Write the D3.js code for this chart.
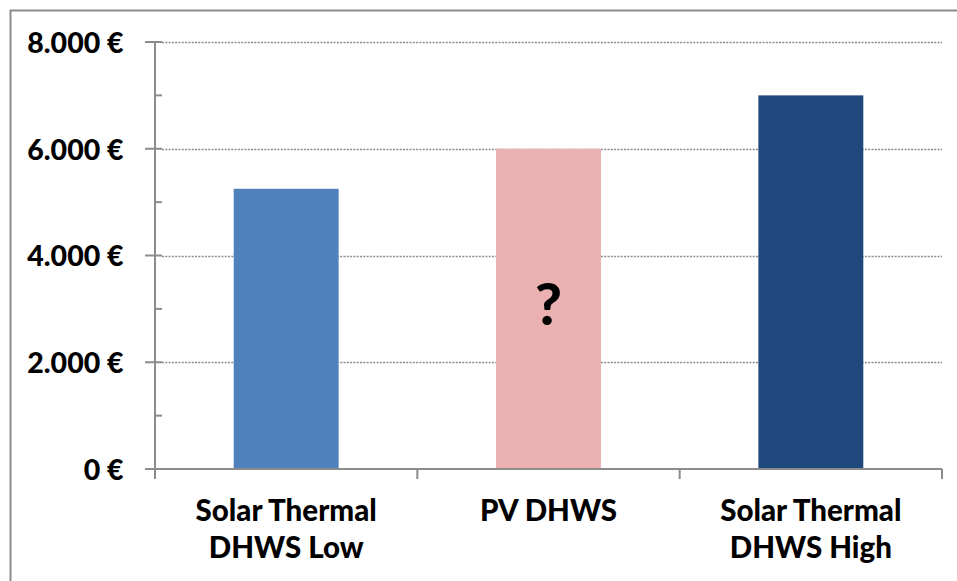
<!DOCTYPE html>
<html>
<head>
<meta charset="utf-8">
<script src="https://cdn.jsdelivr.net/npm/d3@7"></script>
<style>
    body { margin: 0; background: #fff; }
    text { font-family: Lato, "Open Sans", sans-serif; font-weight: 900; fill: #000; }
</style>
</head>
<body>
<div id="chart"></div>
<script>
var categories = [["Solar Thermal", "DHWS Low"], ["PV DHWS"], ["Solar Thermal", "DHWS High"]];
var values = [5250, 6000, 7000];
var colors = ["#4f81bd", "#ebb1b0", "#1f497d"];
var yTicks = [0, 2000, 4000, 6000, 8000];
var yMinorTicks = [1000, 3000, 5000, 7000];
var yTickLabels = ["0 €", "2.000 €", "4.000 €", "6.000 €", "8.000 €"];
var unknownMark = "?";

function init() {
    var w = 957;
    var h = 581;
    var left = 155, right = 942, top = 42, bottom = 469;

    var svg = d3.select("#chart")
        .append("svg")
        .attr("width", w)
        .attr("height", h);

    // outer frame
    svg.append("rect")
        .attr("x", 10.5)
        .attr("y", 10.5)
        .attr("width", w)
        .attr("height", h)
        .attr("fill", "none")
        .attr("stroke", "#8c8c8c")
        .attr("stroke-width", 2);

    var xScale = d3.scaleBand()
        .domain(d3.range(categories.length))
        .range([left, right])
        .padding(0);
    var yScale = d3.scaleLinear()
        .domain([0, 8000])
        .range([bottom, top]);

    // dotted gridlines
    svg.selectAll(".grid")
        .data(yTicks.slice(1))
        .enter()
        .append("line")
        .attr("x1", left + 7)
        .attr("x2", right)
        .attr("y1", function (d) { return Math.round(yScale(d)) + 0.5; })
        .attr("y2", function (d) { return Math.round(yScale(d)) + 0.5; })
        .style("stroke", "#8c8c8c")
        .style("stroke-width", 1.3)
        .style("stroke-dasharray", "2,1.3");

    var barW = xScale.bandwidth() * 0.4;
    svg.selectAll(".bar")
        .data(values)
        .enter()
        .append("rect")
        .attr("x", function (d, i) { return xScale(i) + (xScale.bandwidth() - barW) / 2; })
        .attr("y", function (d) { return yScale(d); })
        .attr("width", barW)
        .attr("height", function (d) { return yScale(0) - yScale(d); })
        .attr("fill", function (d, i) { return colors[i]; });

    // y axis
    var yAxis = d3.axisLeft(yScale)
        .tickValues(yTicks)
        .tickSize(0)
        .tickFormat(function (d, i) { return yTickLabels[i]; })
        .tickPadding(31);
    var gy = svg.append("g")
        .attr("transform", "translate(" + (left - 0.5) + ",0)")
        .call(yAxis);
    gy.select(".domain").attr("stroke", "#8c8c8c").attr("stroke-width", 2);
    gy.selectAll("text")
        .style("font-size", "28.5px")
        .attr("dy", "0.36em");

    svg.selectAll(".majorTick")
        .data(yTicks)
        .enter()
        .append("line")
        .attr("x1", left - 10)
        .attr("x2", left + 7)
        .attr("y1", function (d) { return yScale(d); })
        .attr("y2", function (d) { return yScale(d); })
        .style("stroke", "#8c8c8c")
        .style("stroke-width", 2);
    svg.selectAll(".minorTick")
        .data(yMinorTicks)
        .enter()
        .append("line")
        .attr("x1", left)
        .attr("x2", left + 7)
        .attr("y1", function (d) { return yScale(d); })
        .attr("y2", function (d) { return yScale(d); })
        .style("stroke", "#8c8c8c")
        .style("stroke-width", 2);

    // x axis
    svg.append("line")
        .attr("x1", left - 10)
        .attr("x2", right)
        .attr("y1", bottom)
        .attr("y2", bottom)
        .style("stroke", "#8c8c8c")
        .style("stroke-width", 2);
    var edges = d3.range(categories.length).map(function (i) { return xScale(i); }).concat([right]);
    svg.selectAll(".xTick")
        .data(edges)
        .enter()
        .append("line")
        .attr("x1", function (d) { return d; })
        .attr("x2", function (d) { return d; })
        .attr("y1", bottom)
        .attr("y2", bottom + 10)
        .style("stroke", "#8c8c8c")
        .style("stroke-width", 2);

    var labels = svg.selectAll(".xLabel")
        .data(categories)
        .enter()
        .append("text")
        .attr("text-anchor", "middle")
        .style("font-size", "29.5px")
        .attr("transform", function (d, i) {
            return "translate(" + (xScale(i) + xScale.bandwidth() / 2) + "," + (bottom + 52) + ")";
        });
    labels.selectAll("tspan")
        .data(function (d) { return d; })
        .enter()
        .append("tspan")
        .attr("x", 0)
        .attr("y", function (d, j) { return j * 37; })
        .text(function (d) { return d; });

    svg.append("text")
        .attr("x", xScale(1) + xScale.bandwidth() / 2)
        .attr("y", yScale(2700))
        .attr("text-anchor", "middle")
        .style("font-size", "58px")
        .text(unknownMark);
}

window.onload = init;
</script>
</body>
</html>
